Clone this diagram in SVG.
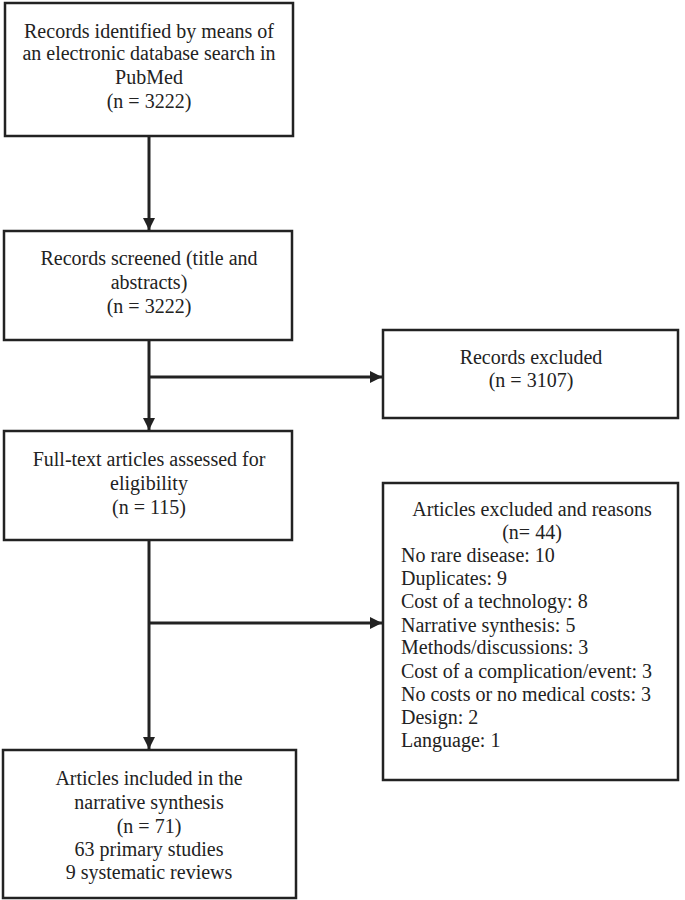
<svg xmlns="http://www.w3.org/2000/svg" width="685" height="900" viewBox="0 0 685 900">
<style>
.box{fill:#fff;stroke:#222;stroke-width:2.5}
.t{font-family:"Liberation Serif","Times New Roman",serif;font-size:20px;fill:#222}
.c{text-anchor:middle}
.ln{stroke:#222;stroke-width:3;fill:none}
</style>
<defs>
<marker id="ah" viewBox="0 0 10 10" refX="10" refY="5" markerWidth="12" markerHeight="12" markerUnits="userSpaceOnUse" orient="auto">
<path d="M0,0 L10,5 L0,10 z" fill="#222"/>
</marker>
</defs>
<rect width="685" height="900" fill="#fff"/>
<g id="connectors">
<line class="ln" x1="149" y1="137" x2="149" y2="230" marker-end="url(#ah)"/>
<line class="ln" x1="149" y1="341" x2="149" y2="430" marker-end="url(#ah)"/>
<line class="ln" x1="149" y1="377" x2="382" y2="377" marker-end="url(#ah)"/>
<line class="ln" x1="149" y1="541" x2="149" y2="749" marker-end="url(#ah)"/>
<line class="ln" x1="149" y1="623" x2="382" y2="623" marker-end="url(#ah)"/>
</g>
<g id="n1">
<rect class="box" x="5" y="3" width="288" height="133"/>
<text class="t c" x="149" y="38">Records identified by means of</text>
<text class="t c" x="149" y="60">an electronic database search in</text>
<text class="t c" x="149" y="84">PubMed</text>
<text class="t c" x="149" y="108">(n = 3222)</text>
</g>
<g id="n2">
<rect class="box" x="4" y="231" width="288" height="109"/>
<text class="t c" x="149" y="265">Records screened (title and</text>
<text class="t c" x="149" y="289">abstracts)</text>
<text class="t c" x="149" y="313">(n = 3222)</text>
</g>
<g id="n3">
<rect class="box" x="383" y="330" width="295" height="88"/>
<text class="t c" x="531" y="364">Records excluded</text>
<text class="t c" x="531" y="387">(n = 3107)</text>
</g>
<g id="n4">
<rect class="box" x="4" y="431" width="288" height="109"/>
<text class="t c" x="149" y="466">Full-text articles assessed for</text>
<text class="t c" x="149" y="490">eligibility</text>
<text class="t c" x="149" y="514">(n = 115)</text>
</g>
<g id="n5">
<rect class="box" x="383" y="483" width="295" height="297"/>
<text class="t c" x="532" y="516">Articles excluded and reasons</text>
<text class="t c" x="532" y="539">(n= 44)</text>
<text class="t" x="401" y="562">No rare disease: 10</text>
<text class="t" x="401" y="585">Duplicates: 9</text>
<text class="t" x="401" y="608">Cost of a technology: 8</text>
<text class="t" x="401" y="632">Narrative synthesis: 5</text>
<text class="t" x="401" y="654">Methods/discussions: 3</text>
<text class="t" x="401" y="678">Cost of a complication/event: 3</text>
<text class="t" x="401" y="701">No costs or no medical costs: 3</text>
<text class="t" x="401" y="724">Design: 2</text>
<text class="t" x="401" y="747">Language: 1</text>
</g>
<g id="n6">
<rect class="box" x="3" y="750" width="293" height="148"/>
<text class="t c" x="149" y="785">Articles included in the</text>
<text class="t c" x="149" y="809">narrative synthesis</text>
<text class="t c" x="149" y="833">(n = 71)</text>
<text class="t c" x="149" y="856">63 primary studies</text>
<text class="t c" x="149" y="879">9 systematic reviews</text>
</g>
</svg>
